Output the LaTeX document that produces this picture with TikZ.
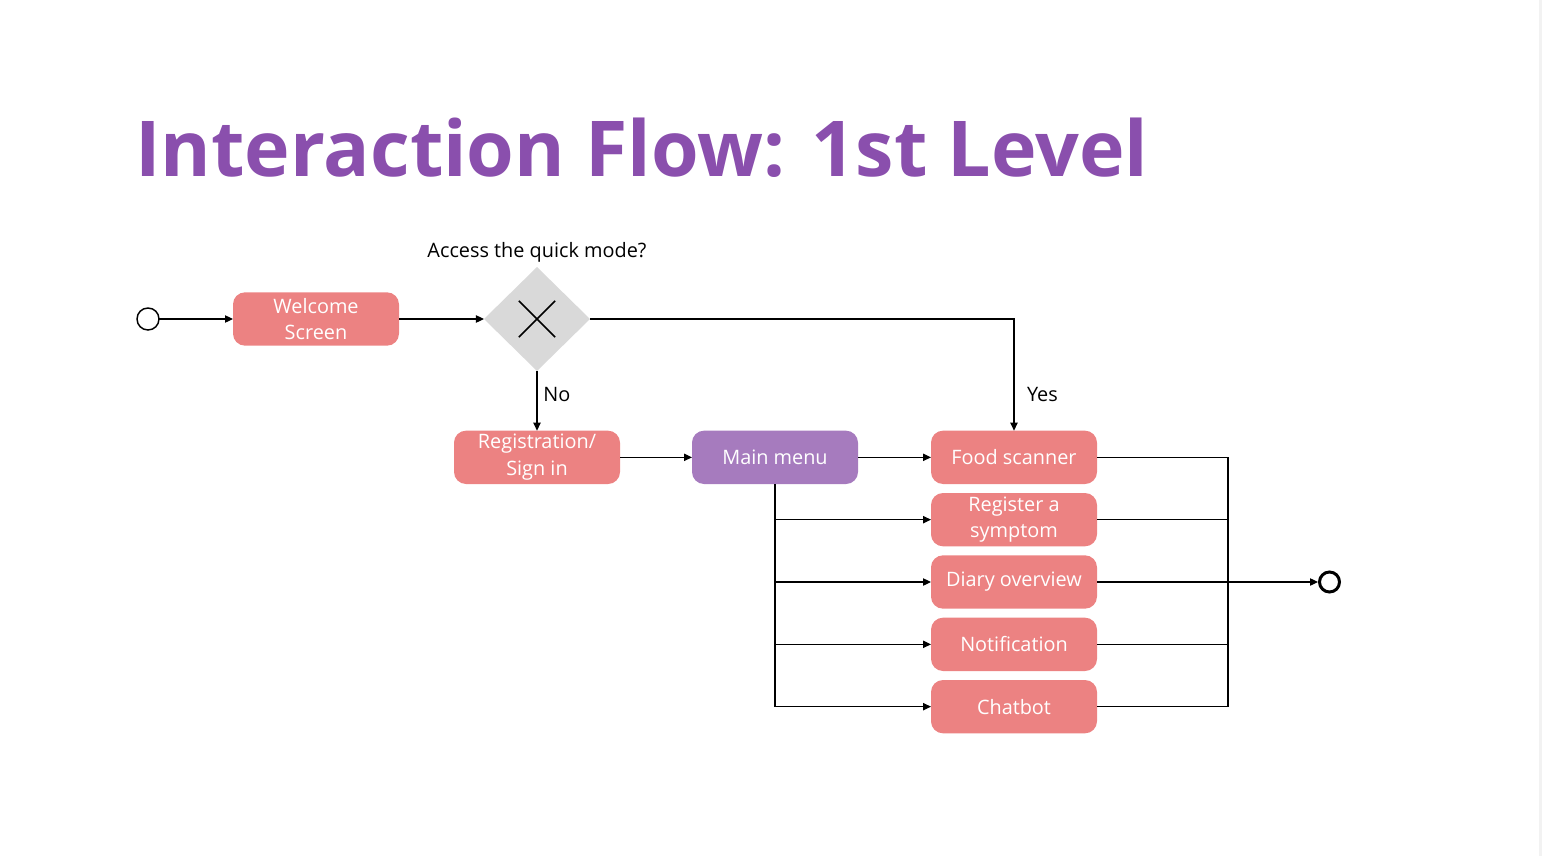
\documentclass[tikz,border=0pt]{standalone}
\usepackage{fontspec}
\setmainfont{Open Sans}
\usepackage{tikz}
\usetikzlibrary{arrows.meta,positioning,shapes.geometric,shapes.misc,calc}
\usepackage{xcolor}
\definecolor{softpink}{RGB}{236,130,130}
\definecolor{softpurple}{RGB}{166,123,190}
\definecolor{softgray}{RGB}{217,217,217}
\definecolor{titlepurple}{RGB}{138,79,173}
\definecolor{edgegray}{RGB}{242,242,242}

\begin{document}
\begin{tikzpicture}[>={Triangle[length=6pt,width=5.5pt]},line width=0.9pt,node distance=6.75pt]
\tikzstyle{n}=[rounded corners=9pt,align=center,minimum width=124.5pt,minimum height=40pt,inner sep=2pt,outer sep=0pt,text=white,fill=softpink,font=\fontsize{14.9}{20}\selectfont]
\tikzstyle{lbl}=[font=\fontsize{14.9}{20}\selectfont]
\useasboundingbox (0,0) rectangle (1156.5pt,-642pt);
\fill[edgegray] (1154.25pt,0) rectangle (1156.5pt,-642pt);
\node[anchor=base west,inner sep=0,text=titlepurple,font=\fontsize{57.8}{64}\selectfont\bfseries] (ttl) at (101pt,-132pt) {Interaction Flow: 1st Level};
\node[draw,circle,minimum size=16.5pt,inner sep=0,outer sep=0pt,line width=1.1pt] (start) at (111pt,-239.25pt) {};
\node[n,right=55.5pt of start] (wel) {Welcome\\Screen};
\node[diamond,fill=softgray,minimum width=79.5pt,minimum height=78pt,inner sep=0,outer sep=0pt,right=63.75pt of wel] (dec) {};
\node[cross out,draw,minimum size=26pt,line width=1.2pt] at (dec) {};
\node[lbl,above=0pt of dec] (q) {Access the quick mode?};
\node[n,below=44.75pt of dec] (reg) {Registration/\\Sign in};
\node[n,right=54pt of reg,fill=softpurple] (main) {Main menu};
\node[n,right=54.75pt of main] (food) {Food scanner};
\node[n,below=of food] (sym) {Register a\\symptom};
\node[n,below=of sym] (diary) {Diary overview};
\node[n,below=of diary] (note) {Notification};
\node[n,below=of note] (chat) {Chatbot};
\node[draw,circle,minimum size=15pt,inner sep=0,line width=2.25pt,right=165.75pt of diary] (end) {};
\coordinate (bus) at ($(diary.east)+(98.25pt,0)$);
\draw[->] (start)--(wel);
\draw[->] (wel)--(dec);
\draw[->] (dec)--node[lbl,right=1pt,pos=0.4]{No}(reg);
\draw[->] (dec)-|node[lbl,right=6pt,pos=0.84]{Yes}(food);
\draw[->] (reg)--(main);\draw[->] (main)--(food);
\foreach \b in {sym,diary,note,chat} \draw[->] (main.south)|-(\b.west);
\foreach \b in {food,sym,note,chat} \draw (\b.east)-|(bus);
\draw[->] (diary)--(end);
\end{tikzpicture}
\end{document}
